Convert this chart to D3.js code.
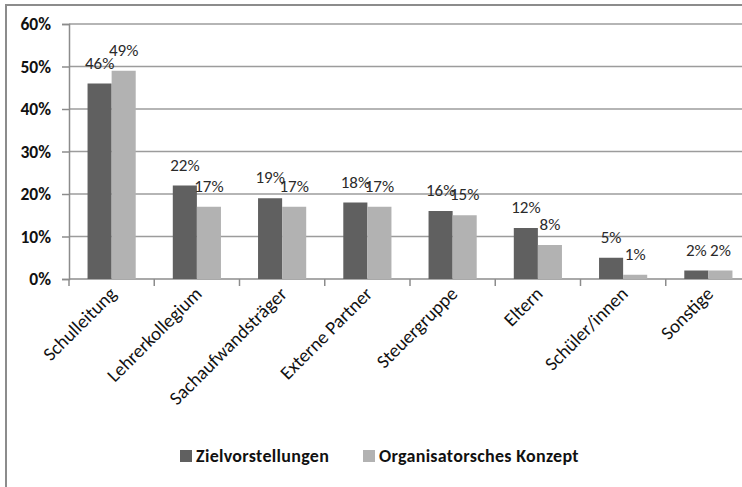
<!DOCTYPE html>
<html>
<head>
<meta charset="utf-8">
<script src="https://cdn.jsdelivr.net/npm/d3@7"></script>
<style>
  body { margin: 0; background: #fff; }
  text { font-family: Carlito, Calibri, Lato, sans-serif; }
</style>
</head>
<body>
<svg id="chart" width="742" height="487"></svg>
<script>
  // data
  const categories = ["Schulleitung", "Lehrerkollegium", "Sachaufwandsträger", "Externe Partner",
                      "Steuergruppe", "Eltern", "Schüler/innen", "Sonstige"];
  const seriesNames = ["Zielvorstellungen", "Organisatorsches Konzept"];
  const zielValues = [46, 22, 19, 18, 16, 12, 5, 2];
  const orgValues = [49, 17, 17, 17, 15, 8, 1, 2];
  const yTicks = [0, 10, 20, 30, 40, 50, 60];

  const colors = { "Zielvorstellungen": "#606060", "Organisatorsches Konzept": "#b2b2b2" };

  const svg = d3.select("#chart");
  const plotLeft = 69, plotRight = 751, plotTop = 24, plotBottom = 279;

  // outer chart border (cut at right / bottom like the screenshot)
  svg.append("rect")
    .attr("x", 6).attr("y", 5)
    .attr("width", 800).attr("height", 600)
    .attr("fill", "none")
    .attr("stroke", "#8c8c8c")
    .attr("stroke-width", 2);

  let y = d3.scaleLinear().domain([0, 60]).range([plotBottom, plotTop]);
  let x0 = d3.scaleBand().domain(categories).range([plotLeft, plotRight])
    .paddingInner(0.435).paddingOuter(0.2175);
  let x1 = d3.scaleBand().domain(seriesNames).range([0, x0.bandwidth()]);

  // gridlines
  svg.append("g")
    .selectAll("line")
    .data(yTicks.filter(d => d > 0))
    .enter().append("line")
    .attr("x1", plotLeft).attr("x2", plotRight)
    .attr("y1", d => y(d)).attr("y2", d => y(d))
    .attr("stroke", "#9c9c9c")
    .attr("stroke-width", 1.5);

  // y axis
  let yAxis = svg.append("g")
    .attr("transform", `translate(${plotLeft},0)`)
    .call(d3.axisLeft(y).tickValues(yTicks).tickFormat(d => d + "%").tickSize(7).tickPadding(11));
  yAxis.select(".domain").attr("stroke", "#8c8c8c").attr("stroke-width", 1.5);
  yAxis.selectAll(".tick line").attr("stroke", "#8c8c8c").attr("stroke-width", 1.5);
  yAxis.selectAll(".tick text")
    .attr("fill", "#111")
    .style("font-size", "17.5px")
    .style("font-weight", "bold");

  // x axis line and ticks between categories
  svg.append("line")
    .attr("x1", plotLeft).attr("x2", plotRight)
    .attr("y1", plotBottom).attr("y2", plotBottom)
    .attr("stroke", "#8c8c8c").attr("stroke-width", 1.5);
  svg.append("g")
    .selectAll("line")
    .data(d3.range(categories.length + 1))
    .enter().append("line")
    .attr("x1", i => plotLeft + i * x0.step())
    .attr("x2", i => plotLeft + i * x0.step())
    .attr("y1", plotBottom).attr("y2", plotBottom + 7)
    .attr("stroke", "#8c8c8c").attr("stroke-width", 1.5);

  // category labels, rotated
  svg.append("g")
    .selectAll("text")
    .data(categories)
    .enter().append("text")
    .attr("transform", d => `translate(${x0(d) + x0.bandwidth() / 2 + 6}, ${plotBottom + 16}) rotate(-45)`)
    .attr("text-anchor", "end")
    .style("font-size", "19px")
    .attr("fill", "#111")
    .text(d => d);

  // bars
  const rows = categories.map((c, i) => ({
    cat: c,
    values: [
      { name: seriesNames[0], value: zielValues[i] },
      { name: seriesNames[1], value: orgValues[i] }
    ]
  }));

  let groups = svg.append("g")
    .selectAll("g")
    .data(rows)
    .enter().append("g")
    .attr("transform", d => `translate(${x0(d.cat)},0)`);

  groups.selectAll("rect")
    .data(d => d.values)
    .enter().append("rect")
    .attr("x", d => x1(d.name))
    .attr("y", d => y(d.value))
    .attr("width", x1.bandwidth())
    .attr("height", d => plotBottom - y(d.value))
    .attr("fill", d => colors[d.name]);

  groups.selectAll("text")
    .data(d => d.values)
    .enter().append("text")
    .attr("x", d => x1(d.name) + x1.bandwidth() / 2)
    .attr("y", d => y(d.value) - 15)
    .attr("text-anchor", "middle")
    .style("font-size", "17px")
    .attr("fill", "#2a2a2a")
    .text(d => d.value + "%");

  // legend
  const legendX = [180, 363];
  let legend = svg.append("g")
    .selectAll("g")
    .data(seriesNames)
    .enter().append("g")
    .attr("transform", (d, i) => `translate(${legendX[i]}, 450)`);
  legend.append("rect")
    .attr("width", 12).attr("height", 12)
    .attr("fill", d => colors[d]);
  legend.append("text")
    .attr("x", 16).attr("y", 12)
    .style("font-size", "18px")
    .style("font-weight", "bold")
    .style("letter-spacing", "0.3px")
    .attr("fill", "#111")
    .text(d => d);
</script>
</body>
</html>
